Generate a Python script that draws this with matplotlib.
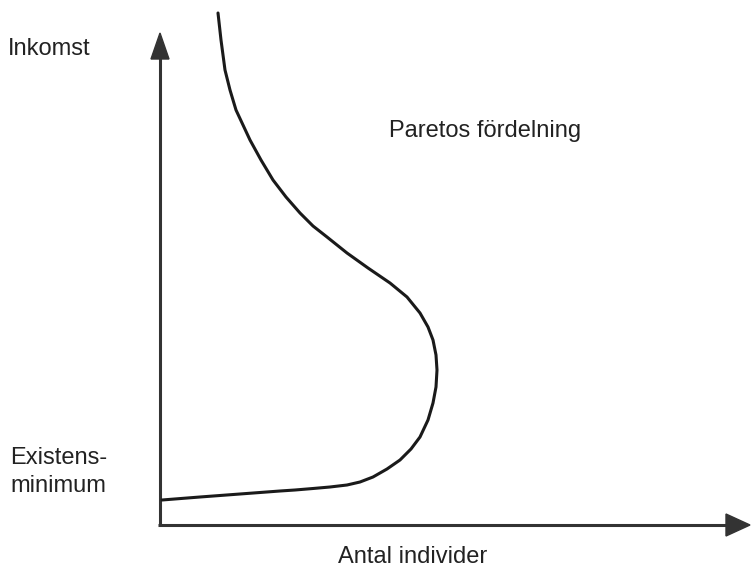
import matplotlib.pyplot as plt
import numpy as np

# Pareto curve (x = antal individer, y = inkomst)
individer = [58, 61, 65, 70, 76, 83, 90, 101, 113, 126, 140, 153, 167, 187, 208,
             230, 247, 260, 268, 273, 276, 277, 276, 273, 268, 260, 251, 240,
             227, 213, 200, 187, 170, 153, 135, 120, 80, 40, 2]
inkomst = [512, 485, 455, 435, 415, 400, 385, 365, 345, 328, 312, 299, 288, 272,
           257, 242, 228, 212, 198, 185, 170, 155, 138, 122, 105, 88, 76, 65,
           56, 48, 43, 40, 38, 36.5, 35, 34, 31, 28, 25]

y_label = "Inkomst"
x_label = "Antal individer"
curve_label = "Paretos fördelning"

plt.rcParams['font.family'] = ['Liberation Sans', 'DejaVu Sans']

fig = plt.figure(figsize=(7.51, 5.68), dpi=100)
ax = fig.add_axes([0, 0, 1, 1])
ax.set_xlim(-160, 591)
ax.set_ylim(-43, 525)
ax.axis('off')

axis_col = '#333333'
# axes with arrow heads
ax.plot([0, 0], [-1, 468], color=axis_col, lw=2.2, solid_capstyle='butt')
ax.plot([-2, 568], [0, 0], color=axis_col, lw=2.2, solid_capstyle='butt')
ax.add_patch(plt.Polygon([[-9, 466], [9, 466], [0, 492]], color=axis_col))
ax.add_patch(plt.Polygon([[566, -11], [566, 11], [590, 0]], color=axis_col))

ax.plot(individer, inkomst, color='#1a1a1a', lw=2.2,
        solid_capstyle='round', solid_joinstyle='round')

fs = 17
ax.text(-152, 470, y_label, fontsize=fs, color='#222222', va='baseline')
ax.text(229, 388, curve_label, fontsize=fs, color='#222222', va='baseline')
ax.text(-150, 61, "Existens-", fontsize=fs, color='#222222', va='baseline')
ax.text(-150, 33, "minimum", fontsize=fs, color='#222222', va='baseline')
ax.text(178, -38, x_label, fontsize=fs, color='#222222', va='baseline')

fig.savefig('out.png', dpi=100)
